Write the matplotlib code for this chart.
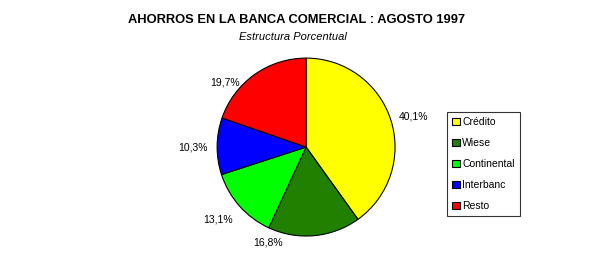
import matplotlib
matplotlib.use("Agg")
import matplotlib.pyplot as plt
from matplotlib.patches import Patch

plt.rcParams['font.family'] = ['Liberation Sans', 'DejaVu Sans']

categories = ["Crédito", "Wiese", "Continental", "Interbanc", "Resto"]
values = [40.1, 16.8, 13.1, 10.3, 19.7]
pct_labels = ["40,1%", "16,8%", "13,1%", "10,3%", "19,7%"]
colors = ["#FFFF00", "#218000", "#00FF00", "#0000FF", "#FF0000"]

# label placement (in units of pie radius)
label_pos = [(1.21, 0.34), (-0.43, -1.07), (-0.99, -0.81), (-1.27, 0.0), (-0.91, 0.73)]

fig = plt.figure(figsize=(6.01, 2.69), dpi=100)
fig.patch.set_facecolor("white")

ax = fig.add_axes([0.302, -0.0097, 0.4146, 0.926])
wedges, _ = ax.pie(values, colors=colors, startangle=90, counterclock=False,
                   wedgeprops=dict(edgecolor="black", linewidth=0.8))
ax.set_xlim(-1.4, 1.4)
ax.set_ylim(-1.4, 1.4)
ax.set_aspect("equal")
ax.axis("off")

for lab, (x, y) in zip(pct_labels, label_pos):
    ax.text(x, y, lab, ha="center", va="center", fontsize=7.5, color="black")

fig.text(296.7 / 601, 1 - 20 / 269, "AHORROS EN LA BANCA COMERCIAL : AGOSTO 1997",
         ha="center", va="center", fontsize=9.3, fontweight="bold")
fig.text(292.5 / 601, 1 - 37 / 269, "Estructura Porcentual",
         ha="center", va="center", fontsize=8, style="italic")

handles = [Patch(facecolor=c, edgecolor="black", linewidth=0.8) for c in colors]
leg = fig.legend(handles, categories, loc="upper left",
                 bbox_to_anchor=(447 / 601, 1 - 112 / 269),
                 fontsize=7.5, frameon=True, fancybox=False, edgecolor="black",
                 handlelength=0.75, handleheight=0.75, handletextpad=0.2,
                 labelspacing=1.05, borderpad=0.5, borderaxespad=0)
leg.get_frame().set_linewidth(0.8)

fig.savefig("out.png", dpi=100, facecolor="white")
